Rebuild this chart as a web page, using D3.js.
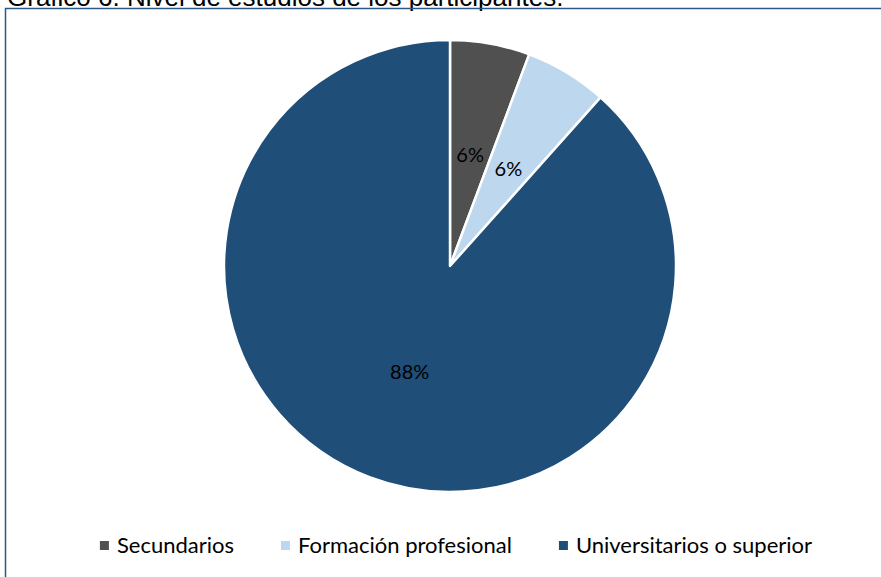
<!DOCTYPE html>
<html>
<head>
<meta charset="utf-8">
<script src="https://cdn.jsdelivr.net/npm/d3@7"></script>
<style>
  body { margin: 0; background: #fff; }
  svg { display: block; }
</style>
</head>
<body>
<script>
// datos del grafico
var categorias = ["Secundarios", "Formación profesional", "Universitarios o superior"];
var porcentajes = [5.7, 5.9, 88.4];
var colores = ["#505050", "#BDD7EE", "#1F4E79"];

var width = 881,
    height = 577;

var svg = d3.select("body").append("svg")
    .attr("width", width)
    .attr("height", height);

// titulo (en el original sale cortado por arriba)
svg.append("text")
    .attr("x", 7)
    .attr("y", 6)
    .attr("font-family", "Liberation Sans, Arial, sans-serif")
    .attr("font-size", "26px")
    .attr("fill", "#000")
    .text("Gráfico 6. Nivel de estudios de los participantes.");

// marco
svg.append("rect")
    .attr("x", 5.5)
    .attr("y", 8.5)
    .attr("width", width + 20)
    .attr("height", height + 20)
    .attr("fill", "none")
    .attr("stroke", "#2A5783")
    .attr("stroke-width", 1.5);

var radius = 226;
var cx = 450, cy = 266;

var datos = categorias.map(function(c, i) {
  return { categoria: c, valor: porcentajes[i], color: colores[i] };
});

var pie = d3.pie()
    .sort(null)
    .value(function(d) { return d.valor; });

var arc = d3.arc()
    .innerRadius(0)
    .outerRadius(radius);

var g = svg.append("g")
    .attr("transform", "translate(" + cx + "," + cy + ")");

var arcos = pie(datos);

g.selectAll(".slice")
    .data(arcos)
    .enter().append("path")
    .attr("class", "slice")
    .attr("d", arc)
    .attr("fill", function(d) { return d.data.color; })
    .attr("stroke", "#fff")
    .attr("stroke-width", 2.5)
    .attr("stroke-linejoin", "round");

g.selectAll(".etiqueta")
    .data(arcos)
    .enter().append("text")
    .attr("class", "etiqueta")
    .attr("transform", function(d) { return "translate(" + arc.centroid(d) + ")"; })
    .attr("dy", "0.36em")
    .attr("text-anchor", "middle")
    .attr("font-family", "Lato, sans-serif")
    .attr("font-size", "20px")
    .attr("fill", "#000")
    .text(function(d) { return Math.round(d.data.valor) + "%"; });

// leyenda
var leyenda = svg.append("g");
var gap = 47;
var x = 0;
datos.forEach(function(d) {
  var item = leyenda.append("g");
  item.append("rect")
      .attr("x", 0)
      .attr("y", -12)
      .attr("width", 9)
      .attr("height", 9)
      .attr("fill", d.color);
  var t = item.append("text")
      .attr("x", 17)
      .attr("y", 0)
      .attr("font-family", "Lato, sans-serif")
      .attr("font-size", "22px")
      .attr("fill", "#000")
      .text(d.categoria);
  var w = 17 + t.node().getComputedTextLength();
  item.attr("transform", "translate(" + x + ",0)");
  x += w + gap;
});
var total = x - gap;
leyenda.attr("transform", "translate(" + (456 - total / 2) + ",553)");
</script>
</body>
</html>
